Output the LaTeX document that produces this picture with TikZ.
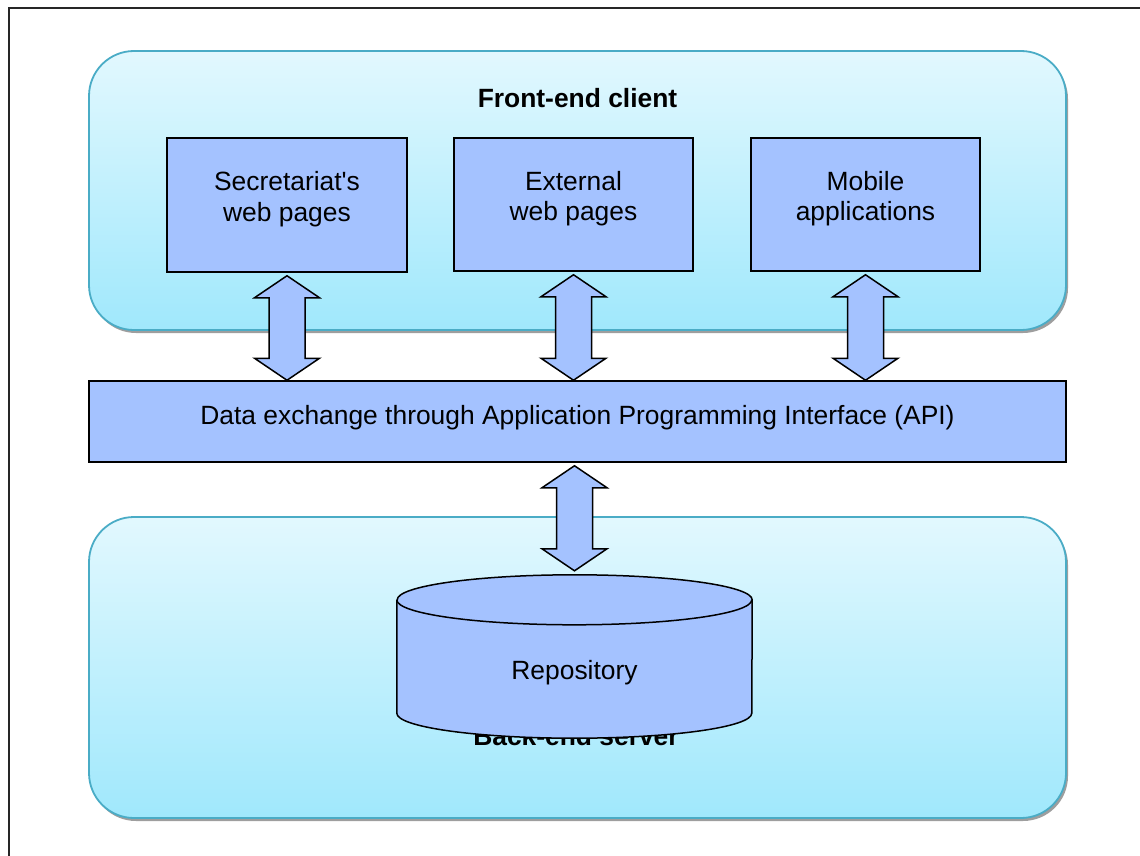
\documentclass[tikz,border=0pt]{standalone}
\usepackage{fontspec}
\setmainfont{Liberation Sans}
\usepackage{xcolor}
\usetikzlibrary{calc,shadows}

\definecolor{paneltop}{RGB}{226,248,254}
\definecolor{panelbot}{RGB}{160,232,252}
\definecolor{panelline}{RGB}{74,172,198}
\definecolor{boxblue}{RGB}{164,194,255}

\newcommand{\dblarrow}[2]{%
  \draw[fatarrow] let \p1=#1, \p2=#2 in
    (\x1,\y1) -- (\x1+32.5pt,\y1-22pt) -- (\x1+18pt,\y1-22pt) -- (\x1+18pt,\y2+22pt)
    -- (\x1+32.5pt,\y2+22pt) -- (\x1,\y2) -- (\x1-32.5pt,\y2+22pt) -- (\x1-18pt,\y2+22pt)
    -- (\x1-18pt,\y1-22pt) -- (\x1-32.5pt,\y1-22pt) -- cycle;}

\begin{document}
\begin{tikzpicture}[x=1pt,y=1pt,
  panel/.style={draw=panelline,line width=1.8pt,rounded corners=45pt,top color=paneltop,bottom color=panelbot,
    minimum width=977pt,inner sep=0pt,
    drop shadow={shadow xshift=2pt,shadow yshift=-3pt,fill=black!38,opacity=1}},
  box/.style={draw,line width=1.5pt,fill=boxblue,inner sep=0pt},
  txt/.style={font=\fontsize{26.4}{30.4}\selectfont,align=center,inner sep=0pt},
  title/.style={txt,font=\fontsize{26.4}{30.4}\selectfont\bfseries},
  fatarrow/.style={draw,line width=1.5pt,fill=boxblue,line join=miter}]
\useasboundingbox (0,0) rectangle (1140,-856);
\clip (0,0) rectangle (1140,-856);
\draw[line width=2pt,black!85] (8.5,-8.5) rectangle (1180,-900);

% panels
\node[panel,minimum height=279pt] at (577.5,-190.5) (front) {};
\node[panel,minimum height=301pt] at (577.5,-667.5) (back) {};
\node[title] at (577.5,-98) (fronttitle) {Front-end client};
\node[title] at (576,-736) (backtitle) {Back-end server};

% client boxes
\node[box,minimum width=240pt,minimum height=134pt] at (287,-205) (sec) {};
\node[txt] at ([yshift=6pt]sec.center) {Secretariat\textquotesingle s\\web pages};
\node[box,minimum width=239pt,minimum height=133pt] at (573.5,-204.5) (ext) {};
\node[txt] at ([yshift=6pt]ext.center) {External\\web pages};
\node[box,minimum width=229pt,minimum height=133pt] at (865.5,-204.5) (mob) {};
\node[txt] at ([yshift=6pt]mob.center) {Mobile\\applications};

\node[box,minimum width=977pt,minimum height=81pt] at (577.5,-421.5) (api) {};
\node[txt] at ([yshift=4pt]api.center) {Data exchange through Application Programming Interface (API)};

% repository
\node[inner sep=0pt,minimum width=355pt,minimum height=163pt] at (574.5,-656.5) (repo) {};
\draw[box] ($(repo.north west)+(0,-25)$) -- ($(repo.south west)+(0,25)$)
  arc[start angle=180,end angle=360,x radius=177.5,y radius=25] -- ($(repo.north east)+(0,-25)$)
  arc[start angle=0,end angle=180,x radius=177.5,y radius=25];
\draw[line width=1.5pt] ($(repo.north west)+(0,-25)$) arc[start angle=180,end angle=360,x radius=177.5,y radius=25];
\node[txt] at ([yshift=-16pt]repo.center) {Repository};

% arrows
\dblarrow{([yshift=-3pt]sec.south)}{(sec.south |- api.north)}
\dblarrow{([yshift=-3pt]ext.south)}{(ext.south |- api.north)}
\dblarrow{([yshift=-3pt]mob.south)}{(mob.south |- api.north)}
\dblarrow{([yshift=-3pt]api.south -| repo.north)}{([yshift=4pt]repo.north)}
\end{tikzpicture}
\end{document}
